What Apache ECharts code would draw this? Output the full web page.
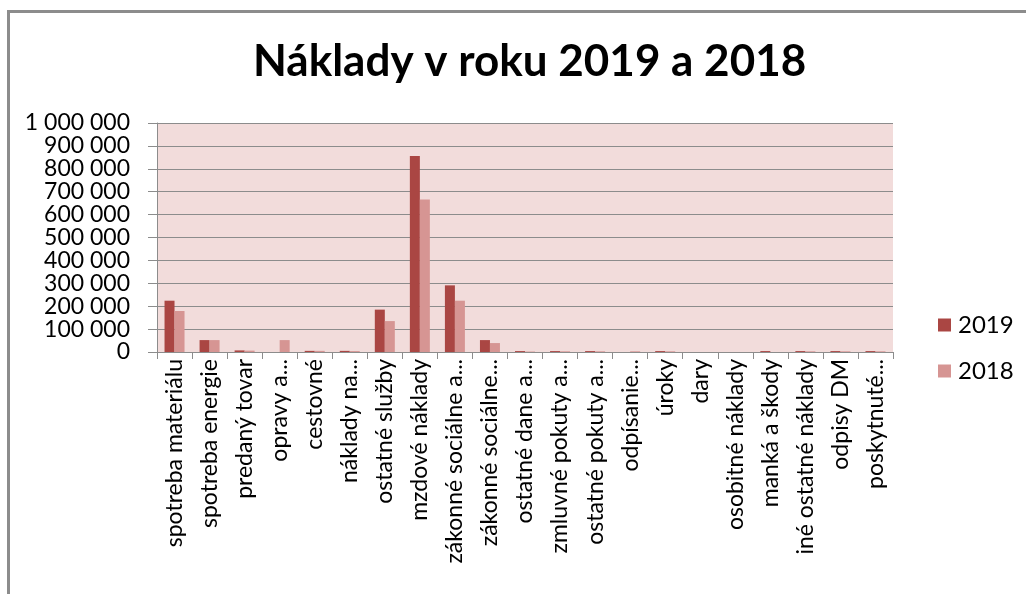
<!DOCTYPE html>
<html>
<head>
<meta charset="utf-8">
<script src="https://cdn.jsdelivr.net/npm/echarts@6/dist/echarts.min.js"></script>
<style>
  html, body { margin: 0; padding: 0; background: #fff; }
  #frame { position: absolute; left: 7px; top: 10px; width: 1030px; height: 600px;
           border-left: 3px solid #8c8c8c; border-top: 3px solid #8c8c8c; }
  #main { position: absolute; left: 0; top: 0; width: 1026px; height: 594px; }
</style>
</head>
<body>
<div id="frame"></div>
<div id="main"></div>
<script>
// nakladove polozky (popisky tak, ako su zobrazene v grafe)
var categories = [
  'spotreba materiálu', 'spotreba energie', 'predaný tovar', 'opravy a...',
  'cestovné', 'náklady na...', 'ostatné služby', 'mzdové náklady',
  'zákonné sociálne a...', 'zákonné sociálne...', 'ostatné dane a...',
  'zmluvné pokuty a...', 'ostatné pokuty a...', 'odpísanie...', 'úroky',
  'dary', 'osobitné náklady', 'manká a škody', 'iné ostatné náklady',
  'odpisy DM', 'poskytnuté...'
];
var seriesNames = ['2019', '2018'];
var values2019 = [224000, 52000, 7000, 0, 5000, 5000, 185000, 856000, 291000, 52000,
                  4000, 4000, 4000, 0, 4000, 0, 0, 4000, 4000, 4000, 4000];
var values2018 = [179000, 52000, 6000, 52000, 5000, 4000, 135000, 666000, 224000, 39000,
                  2000, 3000, 3000, 3000, 3000, 0, 0, 0, 3000, 3000, 3000];
var yTicks = { min: 0, max: 1000000, interval: 100000 };

var font = 'Lato, "Open Sans", sans-serif';

function fmt(v) {
  return String(v).replace(/\B(?=(\d{3})+(?!\d))/g, ' ');
}

var chart = echarts.init(document.getElementById('main'));
chart.setOption({
  backgroundColor: 'transparent',
  animation: false,
  title: {
    text: 'Náklady v roku 2019 a 2018',
    left: 248,
    top: 35,
    textStyle: { fontFamily: font, fontWeight: 'bold', fontSize: 44, color: '#000' }
  },
  legend: {
    orient: 'vertical',
    left: 933,
    top: 308,
    itemWidth: 13,
    itemHeight: 13,
    itemGap: 22,
    icon: 'rect',
    data: seriesNames,
    textStyle: { fontFamily: font, fontSize: 24, color: '#000', padding: [0, 0, 0, 2] }
  },
  grid: {
    left: 157, right: 133, top: 123, bottom: 242,
    show: true, backgroundColor: '#f2dcdb', borderWidth: 0,
    containLabel: false
  },
  xAxis: {
    type: 'category',
    data: categories,
    axisLine: { lineStyle: { color: '#8c8c8c', width: 1 } },
    axisTick: { show: true, length: 7, lineStyle: { color: '#8c8c8c' } },
    axisLabel: {
      rotate: 90, interval: 0, margin: 7,
      fontFamily: font, fontSize: 23, color: '#000'
    }
  },
  yAxis: {
    type: 'value',
    min: yTicks.min, max: yTicks.max, interval: yTicks.interval,
    axisLine: { show: true, lineStyle: { color: '#8c8c8c', width: 1 } },
    axisTick: { show: true, length: 9, lineStyle: { color: '#8c8c8c' } },
    splitLine: { show: true, lineStyle: { color: '#8c8c8c', width: 1 } },
    axisLabel: {
      margin: 27, fontFamily: font, fontSize: 23, color: '#000',
      formatter: fmt
    }
  },
  series: [
    { name: seriesNames[0], type: 'bar', data: values2019, barWidth: 10, barGap: '0%',
      itemStyle: { color: '#aa4643' } },
    { name: seriesNames[1], type: 'bar', data: values2018, barWidth: 10,
      itemStyle: { color: '#d69593' } }
  ]
});
</script>
</body>
</html>
